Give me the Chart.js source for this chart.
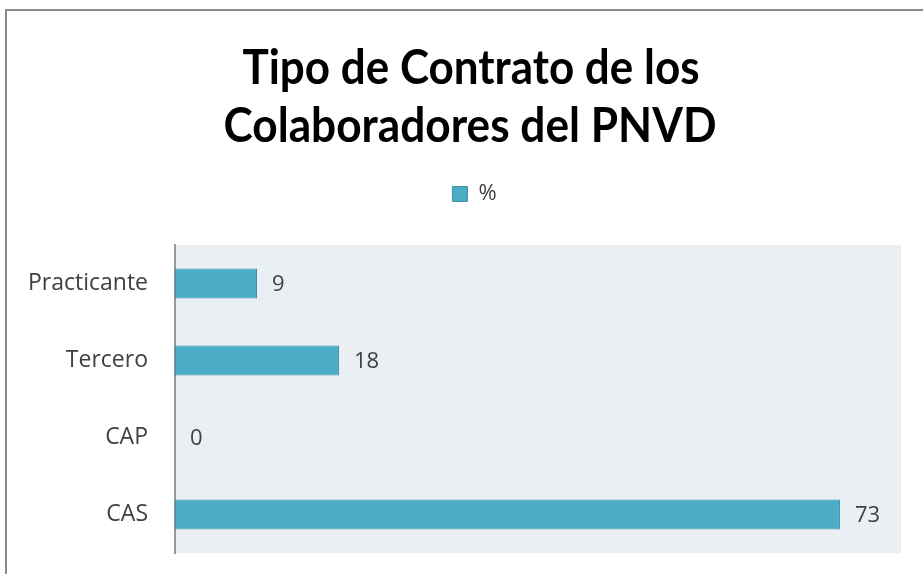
<!DOCTYPE html>
<html><head><meta charset="utf-8">
<script src="https://cdn.jsdelivr.net/npm/chart.js@4.4.1/dist/chart.umd.min.js"></script>
<style>html,body{margin:0;padding:0;background:#fff;overflow:hidden}</style>
</head><body>
<canvas id="c" width="923" height="574"></canvas>
<script>
const categories = ['Practicante', 'Tercero', 'CAP', 'CAS'];
const seriesName = '%';
const values = [9, 18, 0, 73];
const titleLines = ['Tipo de Contrato de los', 'Colaboradores del PNVD'];
const xMin = 0, xMax = 79.7;

const BAR = '#4BACC6', BAR_EDGE = '#3D8FA6', PLOT_BG = '#E9EFF3', TXT = '#404040';
const FONT = '"Open Sans", "Noto Sans", sans-serif';
const TFONT = 'Lato, "Noto Sans", sans-serif';

const framePlugin = {
  id: 'frame',
  beforeDraw(chart) {
    const {ctx, chartArea: a} = chart;
    ctx.save();
    ctx.fillStyle = '#fff';
    ctx.fillRect(0, 0, chart.width, chart.height);
    ctx.fillStyle = PLOT_BG;
    ctx.fillRect(a.left, a.top, a.right - a.left, a.bottom - a.top);
    ctx.strokeStyle = '#8a8a8a';
    ctx.lineWidth = 2;
    ctx.beginPath();
    ctx.moveTo(6, chart.height); ctx.lineTo(6, 10); ctx.lineTo(chart.width, 10);
    ctx.stroke();
    ctx.restore();
  }
};

const legendTweak = {
  id: 'legendTweak',
  beforeLayout(chart) {
    const lg = chart.legend;
    if (lg && !lg._patched) {
      const f = lg.fit.bind(lg);
      lg.fit = function () { f(); this.height += 30; };
      lg._patched = true;
    }
  },
  afterLayout(chart) {
    const lg = chart.legend;
    if (lg) { lg.left += 17; lg.right += 17; }
  }
};

const titlePlugin = {
  id: 'squishTitle',
  afterDraw(chart) {
    const ctx = chart.ctx;
    const specs = [{y: 84, w: 457, cx: 471}, {y: 142, w: 493, cx: 470}];
    ctx.save();
    ctx.fillStyle = '#000';
    ctx.font = 'bold 48px ' + TFONT;
    ctx.textBaseline = 'alphabetic';
    ctx.textAlign = 'center';
    titleLines.forEach((t, i) => {
      const s = specs[i];
      const mw = ctx.measureText(t).width;
      const sx = s.w / mw;
      ctx.save();
      ctx.translate(s.cx, s.y);
      ctx.scale(sx, 1);
      ctx.fillText(t, 0, 0);
      ctx.restore();
    });
    ctx.restore();
  }
};

const labelPlugin = {
  id: 'valueLabels',
  afterDatasetsDraw(chart) {
    const ctx = chart.ctx;
    const meta = chart.getDatasetMeta(0);
    ctx.save();
    ctx.fillStyle = TXT;
    ctx.font = '22px ' + FONT;
    ctx.textBaseline = 'middle';
    ctx.textAlign = 'left';
    meta.data.forEach((el, i) => {
      ctx.fillText(String(values[i]), el.x + 15, el.y + 1);
    });
    ctx.restore();
  }
};

new Chart(document.getElementById('c'), {
  type: 'bar',
  data: {
    labels: categories,
    datasets: [{
      label: seriesName,
      data: values,
      backgroundColor: BAR,
      borderColor: BAR_EDGE,
      borderWidth: 1,
      borderSkipped: false,
      barPercentage: 0.39,
      categoryPercentage: 1
    }]
  },
  options: {
    indexAxis: 'y',
    responsive: false,
    animation: false,
    layout: {padding: {top: 173, left: 14, right: 22, bottom: 21}},
    plugins: {
      title: {display: false},
      tooltip: {enabled: false},
      legend: {
        display: true,
        position: 'top',
        labels: {
          boxWidth: 15, boxHeight: 15, padding: 10,
          color: TXT,
          font: {family: FONT, size: 22},
          generateLabels(chart) {
            return [{text: seriesName, fillStyle: BAR, strokeStyle: BAR_EDGE, lineWidth: 1, fontColor: TXT, datasetIndex: 0}];
          }
        }
      }
    },
    scales: {
      x: {display: false, min: xMin, max: xMax},
      y: {
        grid: {display: false, drawTicks: false},
        border: {display: true, color: '#999', width: 2},
        ticks: {color: TXT, font: {family: FONT, size: 23}, padding: 27},
        afterFit(scale) { scale.width = 161; scale.paddingTop = 0; scale.paddingBottom = 0; }
      }
    }
  },
  plugins: [framePlugin, legendTweak, titlePlugin, labelPlugin]
});
</script>
</body></html>
